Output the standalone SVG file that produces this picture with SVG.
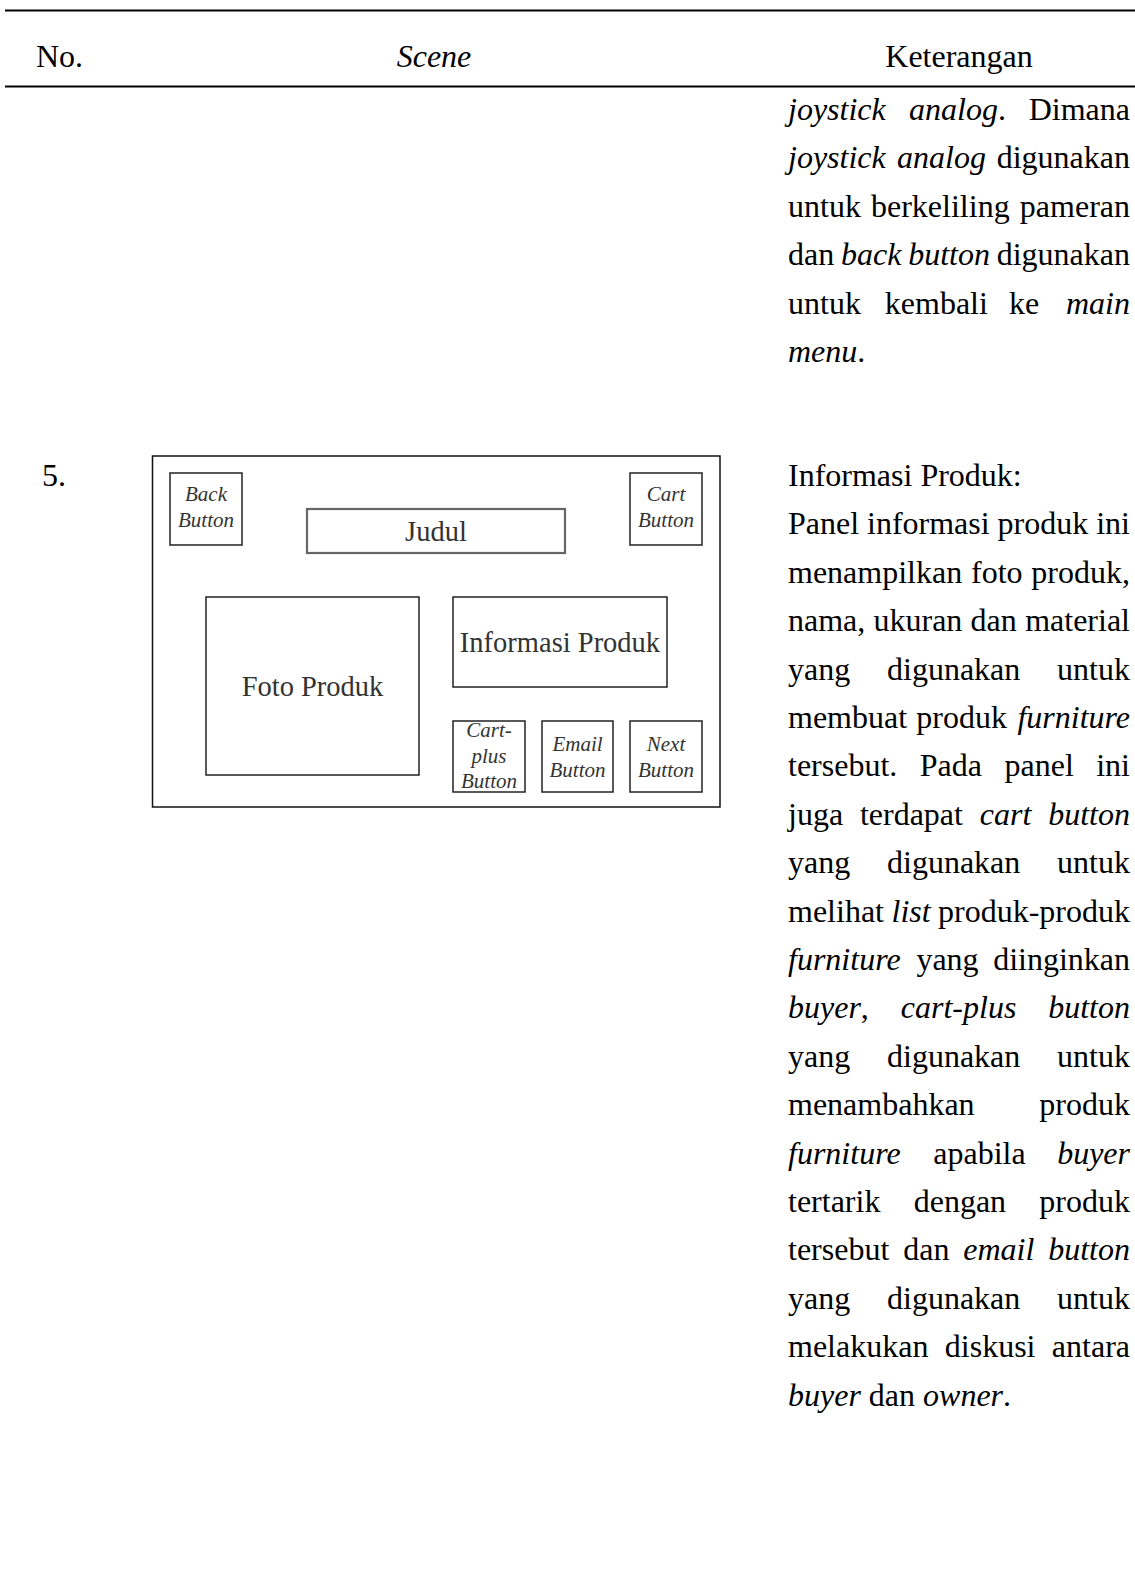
<svg xmlns="http://www.w3.org/2000/svg" width="1135" height="1590" viewBox="0 0 1135 1590">
  <style>
    .body { font-family: "Liberation Serif", "Times New Roman", serif; font-size: 32px; fill: #000; }
    .it { font-style: italic; }
    .r { text-anchor: end; }
    .mid { text-anchor: middle; }
    .rule { fill: #000; }
    .frame { fill: #fff; stroke: #111; stroke-width: 1.5; }
    .box { fill: #fff; stroke: #222; stroke-width: 1.5; }
    .title-box { fill: #fff; stroke: #666; stroke-width: 2.2; }
    .wl { font-family: "Liberation Serif", "Times New Roman", serif; font-size: 28.5px; fill: #333; text-anchor: middle; }
    .bl { font-family: "Liberation Serif", "Times New Roman", serif; font-size: 21px; font-style: italic; fill: #333; text-anchor: middle; }
  </style>

  <rect width="1135" height="1590" fill="#fff"/>

  <!-- table header -->
  <g id="table-header">
    <rect class="rule" x="5" y="9.5" width="1130" height="2"/>
    <text class="body" x="36" y="67">No.</text>
    <text class="body it mid" x="434" y="67">Scene</text>
    <text class="body mid" x="959" y="67">Keterangan</text>
    <rect class="rule" x="5" y="85.5" width="1130" height="2"/>
  </g>

  <!-- continuation of the previous row's description -->
  <g id="row4-description" class="body">
    <text y="120"><tspan class="it" x="788">joystick</tspan><tspan class="it" x="909">analog</tspan><tspan>.</tspan></text>
    <text class="r" x="1130" y="120">Dimana</text>

    <text y="168.4"><tspan class="it" x="788">joystick</tspan><tspan class="it" x="897">analog</tspan></text>
    <text class="r" x="1130" y="168.4">digunakan</text>

    <text y="216.8"><tspan x="788">untuk</tspan><tspan x="871">berkeliling</tspan></text>
    <text class="r" x="1130" y="216.8">pameran</text>

    <text y="265.2"><tspan x="788">dan</tspan><tspan class="it" x="841">back</tspan><tspan class="it" x="908.2">button</tspan></text>
    <text class="r" x="1130" y="265.2">digunakan</text>

    <text y="313.6"><tspan x="788">untuk</tspan><tspan x="884.8">kembali</tspan><tspan x="1009">ke</tspan></text>
    <text class="r it" x="1130" y="313.6">main</text>

    <text y="362"><tspan class="it" x="788">menu</tspan><tspan>.</tspan></text>
  </g>

  <!-- row 5 number -->
  <g id="row5-number">
    <text class="body" x="42" y="486">5.</text>
  </g>

  <!-- row 5 scene: product information panel wireframe -->
  <g id="scene-frame">
    <rect class="frame" x="152.5" y="456" width="567.5" height="351"/>
  </g>
  <g id="back-button">
    <rect class="box" x="170" y="473" width="72" height="72"/>
    <text class="bl" x="206" y="501">Back</text>
    <text class="bl" x="206" y="527">Button</text>
  </g>
  <g id="judul">
    <rect class="title-box" x="307" y="509" width="258" height="44"/>
    <text class="wl" x="436" y="541">Judul</text>
  </g>
  <g id="cart-button">
    <rect class="box" x="630" y="473" width="72" height="72"/>
    <text class="bl" x="666" y="501">Cart</text>
    <text class="bl" x="666" y="527">Button</text>
  </g>
  <g id="foto-produk">
    <rect class="box" x="206" y="597" width="213" height="178"/>
    <text class="wl" x="312.5" y="696">Foto Produk</text>
  </g>
  <g id="informasi-produk">
    <rect class="box" x="453" y="597" width="214" height="90"/>
    <text class="wl" x="560" y="652">Informasi Produk</text>
  </g>
  <g id="cart-plus-button">
    <rect class="box" x="453" y="721" width="72" height="71"/>
    <text class="bl" x="489" y="737">Cart-</text>
    <text class="bl" x="489" y="763">plus</text>
    <text class="bl" x="489" y="788">Button</text>
  </g>
  <g id="email-button">
    <rect class="box" x="542" y="721" width="71" height="71"/>
    <text class="bl" x="577.5" y="751">Email</text>
    <text class="bl" x="577.5" y="777">Button</text>
  </g>
  <g id="next-button">
    <rect class="box" x="630" y="721" width="72" height="71"/>
    <text class="bl" x="666" y="751">Next</text>
    <text class="bl" x="666" y="777">Button</text>
  </g>

  <!-- row 5 description (justified column) -->
  <g id="row5-description" class="body">
    <text x="788" y="486">Informasi Produk:</text>

    <text y="534.4"><tspan x="788">Panel</tspan><tspan x="867">informasi</tspan><tspan x="997.6">produk</tspan></text>
    <text class="r" x="1130" y="534.4">ini</text>

    <text y="582.8"><tspan x="788">menampilkan</tspan><tspan x="971">foto</tspan></text>
    <text class="r" x="1130" y="582.8">produk,</text>

    <text y="631.2"><tspan x="788">nama,</tspan><tspan x="873.5">ukuran</tspan><tspan x="970.6">dan</tspan></text>
    <text class="r" x="1130" y="631.2">material</text>

    <text y="679.6"><tspan x="788">yang</tspan><tspan x="887">digunakan</tspan></text>
    <text class="r" x="1130" y="679.6">untuk</text>

    <text y="728"><tspan x="788">membuat</tspan><tspan x="916.3">produk</tspan></text>
    <text class="r it" x="1130" y="728">furniture</text>

    <text y="776.4"><tspan x="788">tersebut.</tspan><tspan x="919.8">Pada</tspan><tspan x="1004.5">panel</tspan></text>
    <text class="r" x="1130" y="776.4">ini</text>

    <text y="824.8"><tspan x="788">juga</tspan><tspan x="859.9">terdapat</tspan><tspan class="it" x="979.8">cart</tspan></text>
    <text class="r it" x="1130" y="824.8">button</text>

    <text y="873.2"><tspan x="788">yang</tspan><tspan x="887">digunakan</tspan></text>
    <text class="r" x="1130" y="873.2">untuk</text>

    <text y="921.6"><tspan x="788">melihat</tspan><tspan class="it" x="891.5">list</tspan></text>
    <text class="r" x="1130" y="921.6">produk-produk</text>

    <text y="970"><tspan class="it" x="788">furniture</tspan><tspan x="916.4">yang</tspan></text>
    <text class="r" x="1130" y="970">diinginkan</text>

    <text y="1018.4"><tspan class="it" x="788">buyer</tspan><tspan>,</tspan><tspan class="it" x="900.8">cart-plus</tspan></text>
    <text class="r it" x="1130" y="1018.4">button</text>

    <text y="1066.8"><tspan x="788">yang</tspan><tspan x="887">digunakan</tspan></text>
    <text class="r" x="1130" y="1066.8">untuk</text>

    <text x="788" y="1115.2">menambahkan</text>
    <text class="r" x="1130" y="1115.2">produk</text>

    <text y="1163.6"><tspan class="it" x="788">furniture</tspan><tspan x="933.3">apabila</tspan></text>
    <text class="r it" x="1130" y="1163.6">buyer</text>

    <text y="1212"><tspan x="788">tertarik</tspan><tspan x="913.7">dengan</tspan></text>
    <text class="r" x="1130" y="1212">produk</text>

    <text y="1260.4"><tspan x="788">tersebut</tspan><tspan x="903.2">dan</tspan><tspan class="it" x="963.3">email</tspan></text>
    <text class="r it" x="1130" y="1260.4">button</text>

    <text y="1308.8"><tspan x="788">yang</tspan><tspan x="887">digunakan</tspan></text>
    <text class="r" x="1130" y="1308.8">untuk</text>

    <text y="1357.2"><tspan x="788">melakukan</tspan><tspan x="944.8">diskusi</tspan></text>
    <text class="r" x="1130" y="1357.2">antara</text>

    <text x="788" y="1405.6"><tspan class="it">buyer</tspan> dan <tspan class="it">owner</tspan>.</text>
  </g>
</svg>
